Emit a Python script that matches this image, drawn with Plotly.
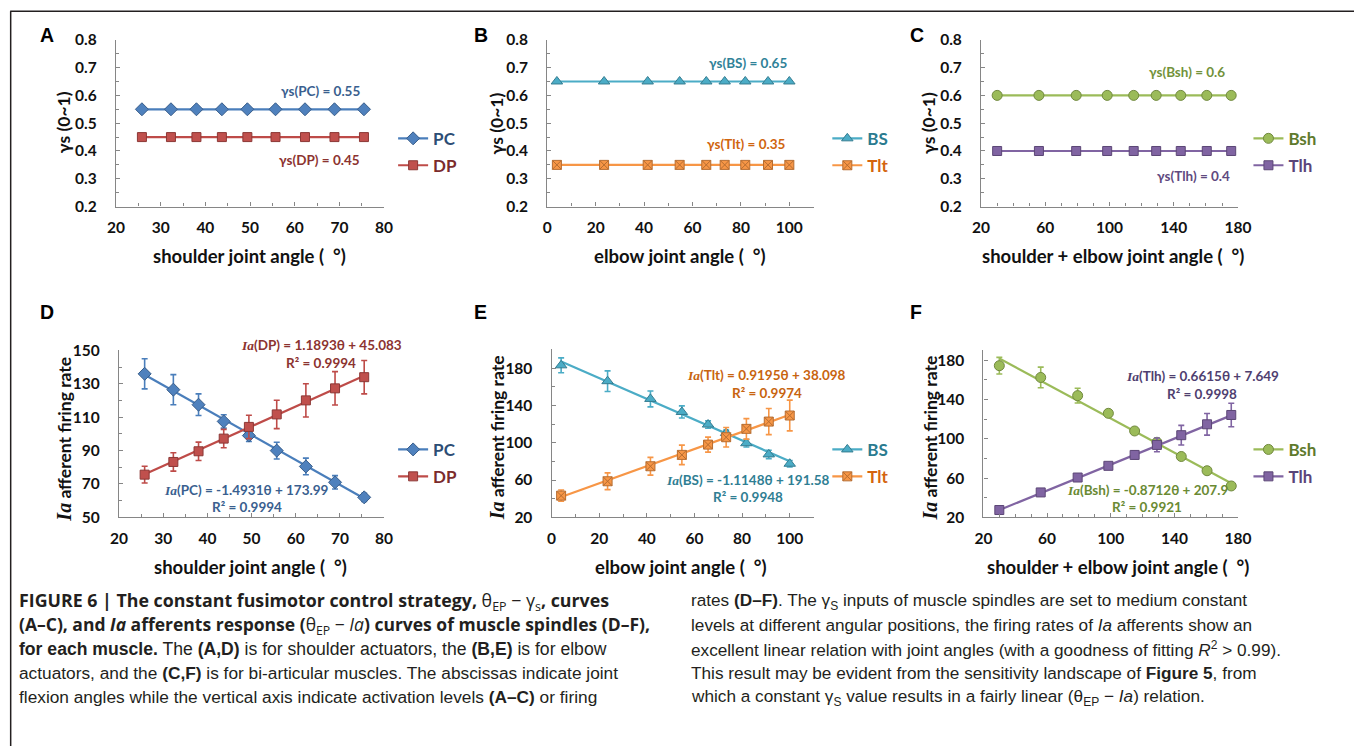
import plotly.graph_objects as go

# The page body keeps an 8px margin and the captured picture comes out at about
# 0.979 of page size, so reference pixel positions are mapped accordingly.
OFF = 8
S = 0.979
W, H = 1374, 754


def X(p):
    return (p / S - OFF) / W


def Y(p):
    return 1 - (p / S - OFF) / H


# ---------------- data ----------------
shoulder_angle = [25.8, 32.3, 38.0, 43.7, 49.4, 55.7, 62.3, 68.9, 75.5]
elbow_angle = [4.0, 23.5, 41.5, 54.7, 65.7, 73.3, 81.8, 91.2, 100.0]
bi_angle = [30.0, 56.0, 79.2, 98.5, 115.0, 129.0, 144.3, 160.5, 175.7]

gamma_PC = [0.55, 0.55, 0.55, 0.55, 0.55, 0.55, 0.55, 0.55, 0.55]
gamma_DP = [0.45, 0.45, 0.45, 0.45, 0.45, 0.45, 0.45, 0.45, 0.45]
gamma_BS = [0.65, 0.65, 0.65, 0.65, 0.65, 0.65, 0.65, 0.65, 0.65]
gamma_Tlt = [0.35, 0.35, 0.35, 0.35, 0.35, 0.35, 0.35, 0.35, 0.35]
gamma_Bsh = [0.6, 0.6, 0.6, 0.6, 0.6, 0.6, 0.6, 0.6, 0.6]
gamma_Tlh = [0.4, 0.4, 0.4, 0.4, 0.4, 0.4, 0.4, 0.4, 0.4]

ia_PC = [136, 126.5, 117.5, 107.5, 99, 90, 80.5, 71, 62]
err_PC = [9, 9, 6.5, 4, 3.5, 5, 5, 4, 2.5]
ia_DP = [75.6, 83.2, 89.6, 97.2, 104.2, 111.7, 120.1, 127.3, 134]
err_DP = [5, 5.5, 5.5, 5.5, 7, 8.5, 10, 10, 10]
ia_BS = [183, 166, 147, 133, 119.5, 110.5, 99.5, 87.5, 77.5]
err_BS = [8, 11, 8.5, 6.5, 4, 3, 4, 4.5, 3.5]
ia_Tlt = [43.3, 58.7, 74.8, 87, 98, 105.9, 114.9, 122.7, 129.2]
err_Tlt = [6, 9, 9.5, 10.5, 8, 10.5, 11, 14, 16.5]
ia_Bsh = [174.5, 162.5, 144, 126, 108, 96.5, 82, 67.5, 52]
err_Bsh = [8.5, 10.5, 7.5, 3.5, 2, 2, 2, 2, 2]
ia_Tlh = [27.5, 45.4, 60.6, 72.5, 83.6, 93.8, 103.7, 114.8, 124.3]
err_Tlh = [3, 3, 3, 3, 4, 7, 10, 11, 12]

# linear fits (slope, intercept, R2) as printed on the chart
fit_PC = (-1.4931, 173.99, 0.9994)
fit_DP = (1.1893, 45.083, 0.9994)
fit_BS = (-1.1148, 191.58, 0.9948)
fit_Tlt = (0.9195, 38.098, 0.9974)
fit_Bsh = (-0.8712, 207.9, 0.9921)
fit_Tlh = (0.6615, 7.649, 0.9998)

# ---------------- styles ----------------
FONT = "Lato, Carlito, Calibri, 'Open Sans', sans-serif"
SERIF = "Liberation Serif"
AXC = "#868686"

style = {
    "PC": dict(line="#4A7EBB", fill="#4F81BD", edge="#385D8A", sym="diamond", size=10, text="#2C4D75"),
    "DP": dict(line="#BE4B48", fill="#C0504D", edge="#8C3836", sym="square", size=9, text="#7B2B2B"),
    "BS": dict(line="#4BACC6", fill="#4BACC6", edge="#357D91", sym="triangle-up", size=10, text="#2A7B90"),
    "Tlt": dict(line="#F79646", fill="#F79646", edge="#B66D31", sym="square-x", size=9, text="#D4640E"),
    "Bsh": dict(line="#9BBB59", fill="#9BBB59", edge="#71893F", sym="circle", size=10, text="#5E7A2C"),
    "Tlh": dict(line="#8064A2", fill="#8064A2", edge="#5C4776", sym="square", size=9, text="#5A4479"),
}

fig = go.Figure()

# panel geometry (pixel boxes) and axis settings
panels = {
    1: dict(x=(114.3, 381.0), y=(37.7, 205.0), xr=[20, 80], xd=10, x0=20, xm=5,
            yr=[0.2, 0.8], yd=0.1, y0=0.2, ym=0.05),
    2: dict(x=(543.3, 808.3), y=(37.7, 205.0), xr=[0, 110], xd=20, x0=0, xm=10,
            yr=[0.2, 0.8], yd=0.1, y0=0.2, ym=0.05),
    3: dict(x=(975.0, 1230.7), y=(37.7, 205.0), xr=[20, 180], xd=40, x0=20, xm=10,
            yr=[0.2, 0.8], yd=0.1, y0=0.2, ym=0.05),
    4: dict(x=(117.3, 381.0), y=(349.3, 516.7), xr=[20, 80], xd=10, x0=20, xm=5,
            yr=[50, 150], yd=20, y0=50, ym=10),
    5: dict(x=(547.7, 808.3), y=(348.3, 516.7), xr=[0, 110], xd=20, x0=0, xm=10,
            yr=[20, 200], yd=40, y0=20, ym=20),
    6: dict(x=(977.3, 1230.7), y=(349.3, 516.7), xr=[20, 180], xd=40, x0=20, xm=10,
            yr=[20, 190], yd=40, y0=20, ym=20),
}

layout_axes = {}
for n, p in panels.items():
    sx = "" if n == 1 else str(n)
    layout_axes["xaxis" + sx] = dict(
        domain=[X(p["x"][0]), X(p["x"][1])], range=p["xr"], anchor="y" + sx,
        showline=True, linecolor=AXC, linewidth=1.3, showgrid=False, zeroline=False,
        ticks="inside", ticklen=4, tickcolor=AXC, tickwidth=1.3,
        dtick=p["xd"], tick0=p["x0"],
        minor=dict(ticks="inside", ticklen=3, tickcolor=AXC, dtick=p["xm"], tick0=p["x0"]),
        tickfont=dict(family=FONT, size=15.5, color="#111111", weight="bold"),
        ticklabelstandoff=7,
    )
    layout_axes["yaxis" + sx] = dict(
        domain=[Y(p["y"][1]), Y(p["y"][0])], range=p["yr"], anchor="x" + sx,
        showline=True, linecolor=AXC, linewidth=1.3, showgrid=False, zeroline=False,
        ticks="inside", ticklen=4, tickcolor=AXC, tickwidth=1.3,
        dtick=p["yd"], tick0=p["y0"],
        minor=dict(ticks="inside", ticklen=3, tickcolor=AXC, dtick=p["ym"], tick0=p["y0"]),
        tickfont=dict(family=FONT, size=15.5, color="#111111", weight="bold"),
        ticklabelstandoff=15,
    )
    if n in (1, 2, 3):
        layout_axes["yaxis" + sx]["tickformat"] = ".1f"


def ax(n):
    return ("x" if n == 1 else "x" + str(n)), ("y" if n == 1 else "y" + str(n))


def add_top(n, name, xs, ys, lg):
    s = style[name]
    xa, ya = ax(n)
    fig.add_trace(go.Scatter(
        x=xs, y=ys, xaxis=xa, yaxis=ya, name=name, mode="lines+markers",
        line=dict(color=s["line"], width=2.2),
        marker=dict(symbol=s["sym"], size=s["size"], color=s["fill"],
                    line=dict(color=s["edge"], width=1)),
        legend=lg, cliponaxis=False,
    ))


def add_bottom(n, name, xs, ys, es, fit, lg):
    s = style[name]
    xa, ya = ax(n)
    slope, icpt, _ = fit
    xl = [min(xs), max(xs)]
    fig.add_trace(go.Scatter(
        x=xl, y=[slope * v + icpt for v in xl], xaxis=xa, yaxis=ya, mode="lines",
        line=dict(color=s["line"], width=2.2), showlegend=False, hoverinfo="skip",
    ))
    fig.add_trace(go.Scatter(
        x=xs, y=ys, xaxis=xa, yaxis=ya, mode="markers", showlegend=False,
        marker=dict(symbol=s["sym"], size=s["size"], color=s["fill"],
                    line=dict(color=s["edge"], width=1)),
        error_y=dict(type="data", array=es, color=s["line"], thickness=1.6, width=3),
        cliponaxis=False,
    ))
    # legend-only entry (line + marker)
    fig.add_trace(go.Scatter(
        x=[None], y=[None], xaxis=xa, yaxis=ya, name=name, mode="lines+markers",
        line=dict(color=s["line"], width=2.2),
        marker=dict(symbol=s["sym"], size=s["size"], color=s["fill"],
                    line=dict(color=s["edge"], width=1)),
        legend=lg,
    ))


add_top(1, "PC", shoulder_angle, gamma_PC, "legend")
add_top(1, "DP", shoulder_angle, gamma_DP, "legend2")
add_top(2, "BS", elbow_angle, gamma_BS, "legend3")
add_top(2, "Tlt", elbow_angle, gamma_Tlt, "legend4")
add_top(3, "Bsh", bi_angle, gamma_Bsh, "legend5")
add_top(3, "Tlh", bi_angle, gamma_Tlh, "legend6")

add_bottom(4, "PC", shoulder_angle, ia_PC, err_PC, fit_PC, "legend7")
add_bottom(4, "DP", shoulder_angle, ia_DP, err_DP, fit_DP, "legend8")
add_bottom(5, "BS", elbow_angle, ia_BS, err_BS, fit_BS, "legend9")
add_bottom(5, "Tlt", elbow_angle, ia_Tlt, err_Tlt, fit_Tlt, "legend10")
add_bottom(6, "Bsh", bi_angle, ia_Bsh, err_Bsh, fit_Bsh, "legend11")
add_bottom(6, "Tlh", bi_angle, ia_Tlh, err_Tlh, fit_Tlh, "legend12")

# legends: (legend key, series, x px, y px)
legend_pos = [
    ("legend", "PC", 390, 137), ("legend2", "DP", 390, 164),
    ("legend3", "BS", 822, 137), ("legend4", "Tlt", 822, 164),
    ("legend5", "Bsh", 1241, 137), ("legend6", "Tlh", 1241, 164),
    ("legend7", "PC", 390, 449), ("legend8", "DP", 390, 476),
    ("legend9", "BS", 822, 449), ("legend10", "Tlt", 822, 476),
    ("legend11", "Bsh", 1241, 449), ("legend12", "Tlh", 1241, 476),
]
legends = {}
for key, name, lx, ly in legend_pos:
    legends[key] = dict(
        x=X(lx), y=Y(ly), xanchor="left", yanchor="middle",
        bgcolor="rgba(0,0,0,0)", borderwidth=0, itemwidth=30,
        font=dict(family=FONT, size=17, color=style[name]["text"], weight="bold"),
        tracegroupgap=0,
    )

ann = []


def txt(x, y, text, size=15, color="#111111", bold=True, angle=0, xanchor="center", family=FONT):
    ann.append(dict(
        x=X(x), y=Y(y), xref="paper", yref="paper", text=text, showarrow=False,
        xanchor=xanchor, yanchor="middle", textangle=angle,
        font=dict(family=family, size=size, color=color, weight="bold" if bold else "normal"),
    ))


IA = "<span style='font-family:%s'><i>Ia</i></span>" % SERIF

# panel letters
for L, lx, ly in [("A", 46, 33), ("B", 477, 33), ("C", 911, 33),
                  ("D", 46, 311), ("E", 477, 311), ("F", 910, 311)]:
    txt(lx, ly, L, size=19.5, color="#000000", family="Liberation Sans, Arial, sans-serif")

# axis titles
TS = 18.5
txt(246.7, 255, "shoulder joint angle (  °)", size=TS)
txt(675, 255, "elbow joint angle (  °)", size=TS)
txt(1106.7, 255, "shoulder + elbow joint angle (  °)", size=TS)
txt(248.3, 566, "shoulder joint angle (  °)", size=TS)
txt(676.7, 566, "elbow joint angle (  °)", size=TS)
txt(1111.7, 566, "shoulder + elbow joint angle (  °)", size=TS)

txt(62, 120, "γs (0~1)", size=17.5, angle=-90)
txt(493.3, 121.7, "γs (0~1)", size=17.5, angle=-90)
txt(923.3, 121, "γs (0~1)", size=17.5, angle=-90)
ytitle = "<span style='font-family:%s;font-size:20px'><i>Ia</i></span> afferent firing rate" % SERIF
txt(63, 438.3, ytitle, size=17.5, angle=-90)
txt(493, 436.7, ytitle, size=17.5, angle=-90)
txt(924, 436.7, ytitle, size=17.5, angle=-90)

# value labels top row
VS = 13.5
txt(318, 89.3, "γs(PC) = %.2f" % gamma_PC[0], size=VS, color="#3A5F8F")
txt(316.7, 158.7, "γs(DP) = %.2f" % gamma_DP[0], size=VS, color="#8C3330")
txt(742.7, 61, "γs(BS) = %.2f" % gamma_BS[0], size=VS, color="#2F8298")
txt(741.7, 142.7, "γs(Tlt) = %.2f" % gamma_Tlt[0], size=VS, color="#D0650F")
txt(1180, 70, "γs(Bsh) = %g" % gamma_Bsh[0], size=VS, color="#72923A")
txt(1186, 174, "γs(Tlh) = %g" % gamma_Tlh[0], size=VS, color="#5F4A80")


def eq(name, fit):
    slope, icpt, _ = fit
    return "%s(%s) = %sθ + %s" % (IA, name, ("%.4f" % slope), ("%g" % icpt))


ES = 13.5
txt(318.3, 344.3, eq("DP", fit_DP), size=ES, color="#8C3330")
txt(318, 361.7, "R² = %.4f" % fit_DP[2], size=ES, color="#8C3330")
txt(244.3, 489, eq("PC", fit_PC), size=ES, color="#3A5F8F")
txt(245, 506, "R² = %.4f" % fit_PC[2], size=ES, color="#3A5F8F")
txt(761.7, 374.3, eq("Tlt", fit_Tlt), size=ES, color="#C8640F")
txt(761.7, 391.7, "R² = %.4f" % fit_Tlt[2], size=ES, color="#C8640F")
txt(743.3, 479, eq("BS", fit_BS), size=ES, color="#2F7E93")
txt(743.3, 496.7, "R² = %.4f" % fit_BS[2], size=ES, color="#2F7E93")
txt(1195, 375, eq("Tlh", fit_Tlh), size=ES, color="#4F3F70")
txt(1195, 392.7, "R² = %.4f" % fit_Tlh[2], size=ES, color="#4F3F70")
txt(1141, 489.3, eq("Bsh", fit_Bsh), size=ES, color="#6A8A33")
txt(1140, 506.7, "R² = %.4f" % fit_Bsh[2], size=ES, color="#6A8A33")

# caption
CAP = "Liberation Sans, Arial, Helvetica, sans-serif"
CAPB = "'Open Sans', Liberation Sans, Arial, sans-serif"
left_lines = [
    ("<b>FIGURE 6 | The constant fusimotor control strategy, </b>θ<sub>EP</sub> − γ<sub>s</sub><b>, curves</b>", CAPB, 17.8),
    ("<b>(A–C), and <i>Ia</i> afferents response (</b>θ<sub>EP</sub> − <i>Ia</i><b>) curves of muscle spindles (D–F),</b>", CAPB, 17.5),
    ("<b>for each muscle.</b> The <b>(A,D)</b> is for shoulder actuators, the <b>(B,E)</b> is for elbow", CAP, 17.6),
    ("actuators, and the <b>(C,F)</b> is for bi-articular muscles. The abscissas indicate joint", CAP, 17.3),
    ("flexion angles while the vertical axis indicate activation levels <b>(A–C)</b> or firing", CAP, 17.3),
]
right_lines = [
    "rates <b>(D–F)</b>. The γ<sub>S</sub> inputs of muscle spindles are set to medium constant",
    "levels at different angular positions, the firing rates of <i>Ia</i> afferents show an",
    "excellent linear relation with joint angles (with a goodness of fitting <i>R</i><sup>2</sup> > 0.99).",
    "This result may be evident from the sensitivity landscape of <b>Figure 5</b>, from",
    "which a constant γ<sub>S</sub> value results in a fairly linear (θ<sub>EP</sub> − <i>Ia</i>) relation.",
]
for i, (line, fam, sz) in enumerate(left_lines):
    txt(16, 601 + 24 * i, line, size=sz, color="#231F20", bold=False, xanchor="left", family=fam)
for i, line in enumerate(right_lines):
    txt(684, 601 + 24 * i, line, size=17.2, color="#231F20", bold=False, xanchor="left", family=CAP)

shapes = [
    dict(type="line", xref="paper", yref="paper", x0=X(9), x1=1, y0=Y(9), y1=Y(9),
         line=dict(color="#231F20", width=1.5)),
    dict(type="line", xref="paper", yref="paper", x0=X(9.5), x1=X(9.5), y0=Y(9), y1=0,
         line=dict(color="#231F20", width=1.5)),
]

fig.update_layout(
    width=W, height=H, margin=dict(l=0, r=0, t=0, b=0),
    paper_bgcolor="white", plot_bgcolor="white",
    annotations=ann, shapes=shapes, **layout_axes, **legends,
)

fig.write_html("out.html")
